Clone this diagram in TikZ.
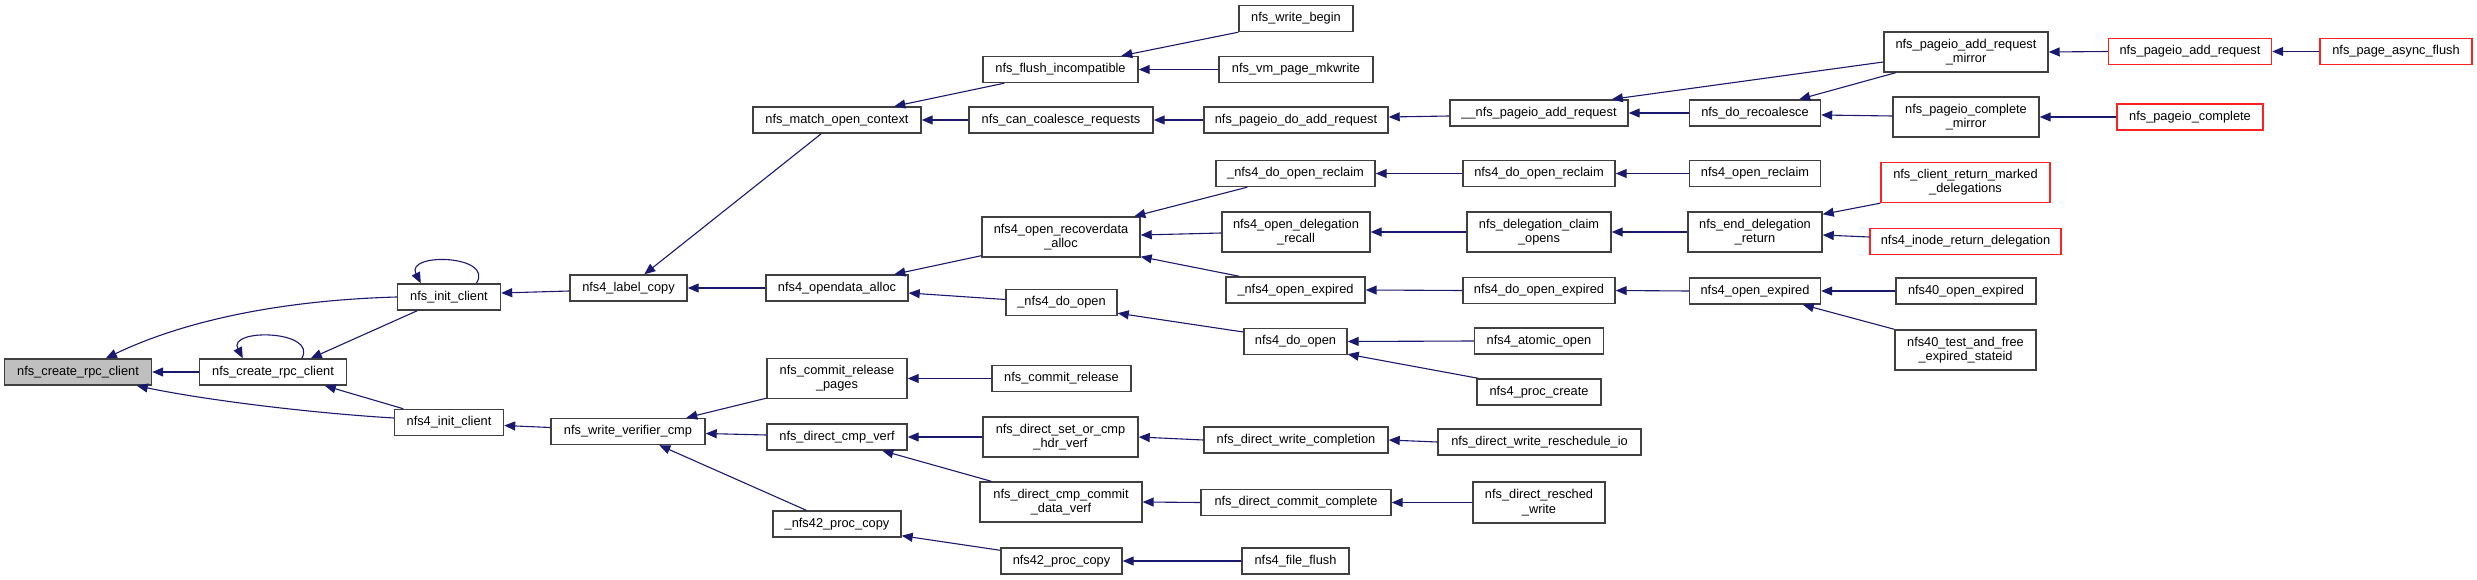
\documentclass[tikz,border=0pt]{standalone}
\usepackage{fontspec}
\setmainfont{Liberation Sans}
\usetikzlibrary{arrows.meta,calc}
\definecolor{edgecol}{HTML}{191970}
\definecolor{boxcol}{HTML}{404040}
\definecolor{redbox}{HTML}{FF2020}
\definecolor{rootfill}{HTML}{BFBFBF}
\newcommand\fnfont{\fontsize{12.8}{14.3}\selectfont}
\tikzset{
  fn/.style={draw=boxcol, line width=1.4pt, fill=white, inner sep=0pt, align=center,
    font=\fnfont, minimum height=26},
  fn2/.style={fn, minimum height=40},
  redfn/.style={draw=redbox},
  ca/.style={draw=edgecol, line width=1.1pt, -{Triangle[length=11pt,width=9pt]}}
}
\begin{document}
\begin{tikzpicture}[x=1pt,y=-1pt]
\useasboundingbox (0,0) rectangle (2477,580);
\fill[white] (0,0) rectangle (2477,580);
% column 0
\node[fn, minimum width=147, fill=rootfill] (root) at (78,372) {nfs\_create\_rpc\_client};
\node[fn, minimum width=147] (ncrc) at (273,372) {nfs\_create\_rpc\_client};
\node[fn, minimum width=103] (nic) at (449,297) {nfs\_init\_client};
\node[fn, minimum width=109] (n4ic) at (449,422.5) {nfs4\_init\_client};
\node[fn, minimum width=117] (n4lc) at (628.5,288) {nfs4\_label\_copy};
\node[fn, minimum width=154] (nwvc) at (628,431.5) {nfs\_write\_verifier\_cmp};
% column 1
\node[fn, minimum width=168] (nmoc) at (837,120) {nfs\_match\_open\_context};
\node[fn, minimum width=142] (n4oa) at (837,288) {nfs4\_opendata\_alloc};
\node[fn2, minimum width=140] (ncrp) at (837,378.5) {nfs\_commit\_release\\\_pages};
\node[fn, minimum width=140] (ndcv) at (837,437) {nfs\_direct\_cmp\_verf};
\node[fn, minimum width=128] (n42pcu) at (837,524) {\_nfs42\_proc\_copy};
% column 2
\node[fn, minimum width=155] (nfi) at (1060.5,69.5) {nfs\_flush\_incompatible};
\node[fn, minimum width=184] (nccr) at (1061,120) {nfs\_can\_coalesce\_requests};
\node[fn2, minimum width=158] (n4ora) at (1061,237) {nfs4\_open\_recoverdata\\\_alloc};
\node[fn, minimum width=111] (n4dou) at (1061.5,302.5) {\_nfs4\_do\_open};
\node[fn, minimum width=139] (ncr) at (1061.5,378.5) {nfs\_commit\_release};
\node[fn2, minimum width=155] (ndsc) at (1060.5,437) {nfs\_direct\_set\_or\_cmp\\\_hdr\_verf};
\node[fn2, minimum width=162] (ndcc) at (1061,502) {nfs\_direct\_cmp\_commit\\\_data\_verf};
\node[fn, minimum width=121] (n42pc) at (1061.5,561) {nfs42\_proc\_copy};
% column 3
\node[fn, minimum width=114] (nwb) at (1296,18.5) {nfs\_write\_begin};
\node[fn, minimum width=154] (nvpm) at (1296,69.5) {nfs\_vm\_page\_mkwrite};
\node[fn, minimum width=184] (npdar) at (1296,120) {nfs\_pageio\_do\_add\_request};
\node[fn, minimum width=159] (n4doru) at (1295.5,173.5) {\_nfs4\_do\_open\_reclaim};
\node[fn2, minimum width=148] (n4odr) at (1296,232) {nfs4\_open\_delegation\\\_recall};
\node[fn, minimum width=139] (n4oeu) at (1295.5,290) {\_nfs4\_open\_expired};
\node[fn, minimum width=103] (n4do) at (1295.5,341.5) {nfs4\_do\_open};
\node[fn, minimum width=184] (ndwc) at (1296,440) {nfs\_direct\_write\_completion};
\node[fn, minimum width=190] (ndccm) at (1296,502.5) {nfs\_direct\_commit\_complete};
\node[fn, minimum width=107] (n4ff) at (1295.5,561) {nfs4\_file\_flush};
% column 4
\node[fn, minimum width=178] (npar2) at (1539,113) {\_\_nfs\_pageio\_add\_request};
\node[fn, minimum width=152] (n4dor) at (1539,173.5) {nfs4\_do\_open\_reclaim};
\node[fn2, minimum width=144] (ndco) at (1539,232) {nfs\_delegation\_claim\\\_opens};
\node[fn, minimum width=152] (n4doe) at (1539,290.5) {nfs4\_do\_open\_expired};
\node[fn, minimum width=129] (n4ao) at (1539,341) {nfs4\_atomic\_open};
\node[fn, minimum width=124] (n4pcr) at (1539,392) {nfs4\_proc\_create};
\node[fn, minimum width=203] (ndwri) at (1539.5,442) {nfs\_direct\_write\_reschedule\_io};
\node[fn2, minimum width=132, minimum height=41] (ndrw) at (1539,502.5) {nfs\_direct\_resched\\\_write};
% column 5
\node[fn, minimum width=131] (ndr) at (1755,113) {nfs\_do\_recoalesce};
\node[fn, minimum width=131] (n4or) at (1755,173.5) {nfs4\_open\_reclaim};
\node[fn2, minimum width=134] (nedr) at (1755,232) {nfs\_end\_delegation\\\_return};
\node[fn, minimum width=131] (n4oe) at (1755,291) {nfs4\_open\_expired};
% column 6
\node[fn2, minimum width=164] (nparm) at (1966,52) {nfs\_pageio\_add\_request\\\_mirror};
\node[fn2, minimum width=146] (npcm) at (1966,117) {nfs\_pageio\_complete\\\_mirror};
\node[fn2, redfn, minimum width=169] (ncrmd) at (1965.5,182.5) {nfs\_client\_return\_marked\\\_delegations};
\node[fn, redfn, minimum width=191] (n4ird) at (1965.5,241.5) {nfs4\_inode\_return\_delegation};
\node[fn, minimum width=140] (n40oe) at (1966,291) {nfs40\_open\_expired};
\node[fn2, minimum width=141] (n40tf) at (1965.5,350) {nfs40\_test\_and\_free\\\_expired\_stateid};
% column 7, 8
\node[fn, redfn, minimum width=163] (npar) at (2190,51.5) {nfs\_pageio\_add\_request};
\node[fn, redfn, minimum width=146] (npc) at (2190,117) {nfs\_pageio\_complete};
\node[fn, redfn, minimum width=152] (npaf) at (2396,51.5) {nfs\_page\_async\_flush};
% edges
\draw[ca] (ncrc.west) -- (root.east);
\draw[ca] (nic.west) .. controls (290,300) and (190,318) .. ($(root.north west)+(102,0)$);
\draw[ca] ($(n4ic.west)+(0,-4.5)$) .. controls (310,413) and (205,400) .. ($(root.south west)+(133,0)$);
\draw[ca] ($(nic.north west)+(79.5,0)$) .. controls (495,255) and (405,252) .. ($(nic.north west)+(24,0)$);
\draw[ca] ($(ncrc.north west)+(103,0)$) .. controls (318,330) and (227,328) .. ($(ncrc.north west)+(44,0)$);
\draw[ca] ($(nic.south west)+(20.5,0)$) -- ($(ncrc.north west)+(112,0)$);
\draw[ca] ($(n4ic.north west)+(9.6,0)$) -- ($(ncrc.south west)+(126,0)$);
\draw[ca] ($(n4lc.west)+(0,3)$) -- ($(nic.east)+(0,-4)$);
\draw[ca] ($(nwvc.west)+(0,-4)$) -- ($(n4ic.east)+(0,3)$);
\draw[ca] ($(nmoc.south west)+(69,0)$) -- ($(n4lc.north west)+(75,0)$);
\draw[ca] (n4oa.west) -- (n4lc.east);
\draw[ca] ($(ncrp.south west)+(0,-1)$) -- ($(nwvc.north west)+(136,0)$);
\draw[ca] ($(ndcv.west)+(0,-2)$) -- ($(nwvc.east)+(0,2)$);
\draw[ca] ($(n42pcu.north west)+(34,0)$) -- ($(nwvc.south west)+(109,0)$);
\draw[ca] ($(nfi.south west)+(22,0)$) -- ($(nmoc.north west)+(142,0)$);
\draw[ca] (nccr.west) -- (nmoc.east);
\draw[ca] ($(n4ora.south west)+(0,-2)$) -- ($(n4oa.north west)+(129,0)$);
\draw[ca] ($(n4dou.west)+(0,-3)$) -- ($(n4oa.east)+(0,5)$);
\draw[ca] (ncr.west) -- (ncrp.east);
\draw[ca] (ndsc.west) -- (ndcv.east);
\draw[ca] ($(ndcc.north west)+(12,0)$) -- ($(ndcv.south west)+(116,0)$);
\draw[ca] ($(n42pc.north west)+(0,3)$) -- ($(n42pcu.south east)+(0,-2)$);
\draw[ca] (nwb.south west) -- ($(nfi.north west)+(139,0)$);
\draw[ca] (nvpm.west) -- (nfi.east);
\draw[ca] (npdar.west) -- (nccr.east);
\draw[ca] ($(n4doru.south west)+(32,0)$) -- ($(n4ora.north west)+(153,0)$);
\draw[ca] ($(n4odr.west)+(0,1)$) -- ($(n4ora.east)+(0,-2)$);
\draw[ca] ($(n4oeu.north west)+(14,0)$) -- ($(n4ora.south east)+(0,-1)$);
\draw[ca] ($(n4do.west)+(0,-9.5)$) -- ($(n4dou.south east)+(0,-3)$);
\draw[ca] ($(npar2.west)+(0,3)$) -- ($(npdar.east)+(0,-3)$);
\draw[ca] (n4dor.west) -- (n4doru.east);
\draw[ca] (ndco.west) -- (n4odr.east);
\draw[ca] (n4doe.west) -- (n4oeu.east);
\draw[ca] (n4ao.west) -- (n4do.east);
\draw[ca] ($(n4pcr.north west)+(2,0)$) -- ($(n4do.south east)+(0,-1)$);
\draw[ca] (ndwc.west) -- (ndsc.east);
\draw[ca] (ndwri.west) -- (ndwc.east);
\draw[ca] (ndccm.west) -- (ndcc.east);
\draw[ca] (ndrw.west) -- (ndccm.east);
\draw[ca] (n4ff.west) -- (n42pc.east);
\draw[ca] ($(nparm.west)+(0,10)$) -- ($(npar2.north west)+(162.5,0)$);
\draw[ca] ($(nparm.south west)+(12.4,0)$) -- ($(ndr.north west)+(110.4,0)$);
\draw[ca] (ndr.west) -- (npar2.east);
\draw[ca] ($(npcm.west)+(0,-1)$) -- ($(ndr.east)+(0,2)$);
\draw[ca] (n4or.west) -- (n4dor.east);
\draw[ca] (ncrmd.south west) -- ($(nedr.north east)+(0,3)$);
\draw[ca] ($(n4ird.west)+(0,-4.5)$) -- ($(nedr.east)+(0,3)$);
\draw[ca] (nedr.west) -- (ndco.east);
\draw[ca] (n4oe.west) -- (n4doe.east);
\draw[ca] (n40oe.west) -- (n4oe.east);
\draw[ca] (n40tf.north west) -- ($(n4oe.south west)+(114,0)$);
\draw[ca] (npar.west) -- (nparm.east);
\draw[ca] (npaf.west) -- (npar.east);
\draw[ca] (npc.west) -- (npcm.east);
\end{tikzpicture}
\end{document}
